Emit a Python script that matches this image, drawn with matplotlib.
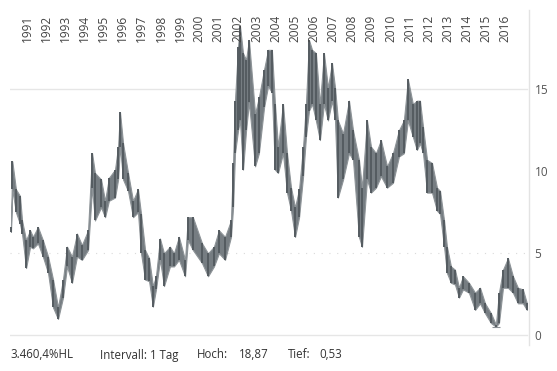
import numpy as np
import matplotlib
matplotlib.use("Agg")
import matplotlib.pyplot as plt
from matplotlib.transforms import blended_transform_factory

plt.rcParams['font.family'] = ['Open Sans', 'DejaVu Sans']

# ---- data (decimal year, high, low) ----
years = [1990.16, 1990.23, 1990.42, 1990.63, 1990.74, 1990.95, 1991.16, 1991.31,
         1991.57, 1991.83, 1992.10, 1992.36, 1992.62, 1992.88, 1993.09, 1993.35,
         1993.61, 1993.87, 1994.19, 1994.40, 1994.55, 1994.87, 1995.08, 1995.28,
         1995.60, 1995.76, 1995.86, 1996.02, 1996.28, 1996.54, 1996.80, 1996.96,
         1997.17, 1997.38, 1997.58, 1997.74, 1997.95, 1998.16, 1998.47, 1998.68,
         1998.94, 1999.26, 1999.41, 1999.67, 2000.15, 2000.46, 2000.77, 2001.03,
         2001.35, 2001.66, 2001.77, 2001.87, 2002.03, 2002.13, 2002.29, 2002.45,
         2002.60, 2002.92, 2003.12, 2003.39, 2003.60, 2003.80, 2003.96, 2004.12,
         2004.38, 2004.59, 2004.80, 2005.01, 2005.22, 2005.43, 2005.58, 2005.74,
         2005.90, 2006.10, 2006.31, 2006.52, 2006.73, 2006.94, 2007.10, 2007.25,
         2007.52, 2007.83, 2008.04, 2008.35, 2008.51, 2008.77, 2008.98, 2009.24,
         2009.50, 2009.82, 2010.13, 2010.44, 2010.70, 2010.91, 2011.17, 2011.38,
         2011.54, 2011.70, 2011.91, 2012.17, 2012.43, 2012.59, 2012.80, 2012.95,
         2013.16, 2013.37, 2013.58, 2013.79, 2014.10, 2014.42, 2014.68, 2014.94,
         2015.25, 2015.51, 2015.67, 2015.88, 2016.14, 2016.40, 2016.66, 2016.92,
         2017.13]
high = [6.6, 10.6, 8.9, 8.5, 7.0, 5.8, 6.4, 6.0,
        6.6, 5.8, 4.8, 3.4, 1.7, 3.4, 5.4, 4.8,
        6.2, 5.5, 6.4, 11.1, 9.9, 9.5, 8.2, 9.6,
        10.1, 11.5, 13.6, 11.7, 9.9, 8.2, 8.9, 7.4,
        5.2, 4.7, 3.0, 3.6, 5.9, 5.0, 5.4, 5.0,
        6.0, 4.6, 7.2, 7.2, 5.6, 5.0, 5.4, 6.4,
        6.0, 7.0, 10.5, 14.3, 17.6, 18.87, 17.2, 16.8,
        18.0, 13.5, 14.5, 16.2, 17.4, 17.4, 14.1, 11.5,
        14.1, 11.1, 9.0, 7.8, 8.9, 11.5, 14.1, 18.0,
        17.4, 17.2, 14.1, 17.2, 15.1, 16.6, 15.1, 13.1,
        12.3, 14.3, 12.5, 10.7, 9.0, 13.1, 11.5, 11.1,
        11.9, 10.3, 11.1, 12.5, 13.1, 15.6, 14.1, 14.3,
        14.3, 12.7, 10.7, 10.5, 9.0, 8.8, 7.0, 5.4,
        4.2, 4.0, 2.9, 3.6, 3.2, 2.6, 2.9, 1.95,
        1.35, 0.65, 2.6, 4.0, 4.7, 3.6, 2.9, 2.8,
        1.95]
low = [6.3, 8.9, 7.5, 6.8, 6.2, 4.1, 5.4, 5.3,
       5.6, 4.8, 3.8, 1.7, 1.0, 2.3, 4.2, 3.2,
       4.8, 4.6, 5.2, 9.0, 7.0, 7.8, 7.2, 8.2,
       8.4, 9.5, 11.5, 9.5, 8.8, 7.2, 7.5, 5.0,
       3.4, 3.3, 1.75, 2.8, 4.6, 3.0, 4.2, 4.2,
       4.6, 3.6, 5.8, 5.2, 4.4, 3.6, 4.2, 5.0,
       4.6, 6.0, 7.8, 11.1, 12.5, 13.1, 10.1, 12.5,
       14.2, 10.3, 11.1, 13.9, 15.2, 14.8, 10.1, 9.9,
       11.1, 8.7, 7.6, 6.0, 7.2, 9.7, 12.1, 13.7,
       14.1, 13.1, 11.9, 14.1, 13.1, 14.3, 13.1, 8.4,
       9.5, 11.1, 10.7, 6.0, 5.4, 9.5, 8.7, 9.0,
       9.7, 9.0, 9.3, 10.9, 11.1, 13.1, 12.1, 11.3,
       11.7, 11.1, 8.7, 8.7, 7.6, 7.4, 5.4, 3.8,
       3.2, 3.1, 2.3, 2.8, 2.6, 1.55, 1.95, 1.35,
       0.75, 0.53, 0.75, 2.9, 2.9, 2.6, 1.95, 1.95,
       1.55]
year_labels = list(range(1991, 2017))
y_ticks = [0, 5, 10, 15]
info_texts = ["3.460,4%HL", "Intervall: 1 Tag", "Hoch:", "18,87", "Tief:", "0,53"]

W, H = 557, 371
fig = plt.figure(figsize=(W / 100, H / 100), dpi=100)
fig.patch.set_facecolor('white')

# axes: pixel x 10..529, pixel y 10..345
ax = fig.add_axes([10 / W, 1 - 345 / H, 519 / W, 335 / H])
ax.set_xlim(1990.11, 2017.24)
ax.set_ylim(-0.59, 19.83)

for s in ['top', 'left', 'bottom']:
    ax.spines[s].set_visible(False)
ax.spines['right'].set_color('#e3e3e3')
ax.spines['right'].set_linewidth(1.0)

gx = (527 - 10) / 519
ax.axhline(15, xmin=0, xmax=gx, color='#e6e6e6', lw=1.0, zorder=0)
ax.axhline(0, xmin=0, xmax=gx, color='#e6e6e6', lw=1.0, zorder=0)
ax.axhline(5, xmin=0, xmax=gx, color='#dadada', lw=0.8, ls=(0, (1, 6)), zorder=0)

yrs = np.asarray(years)
hi = np.asarray(high)
lo = np.asarray(low)
dark = '#555c61'
mid = '#767d82'
ax.fill_between(yrs, lo, hi, color=mid, lw=0.8, edgecolor='#8e9498', zorder=2)
ax.vlines(yrs, lo, hi, color=dark, lw=1.4, zorder=3)
imin = int(np.argmin(lo))
ax.hlines(lo[imin], yrs[imin] - 0.2, yrs[imin] + 0.2, color='#8a9095', lw=0.8, zorder=3)

ax.yaxis.tick_right()
ax.set_yticks(y_ticks)
ax.set_yticklabels([str(t) for t in y_ticks])
ax.tick_params(axis='y', length=0, pad=4, labelsize=8.5, labelcolor='#555555')
ax.set_xticks([])

tr = blended_transform_factory(ax.transData, fig.transFigure)
for y in year_labels:
    ax.text(y, 1 - 42 / H, str(y), rotation=90, ha='center', va='bottom',
            fontsize=8.6, color='#444444', transform=tr, clip_on=False)

ty = 1 - 355 / H
xpos = [10, 100, 197, 239, 288, 319]
for t, xp in zip(info_texts, xpos):
    fig.text(xp / W, ty, t, ha='left', va='center', fontsize=8.3, color='#333333')

fig.savefig('out.png', dpi=100)
